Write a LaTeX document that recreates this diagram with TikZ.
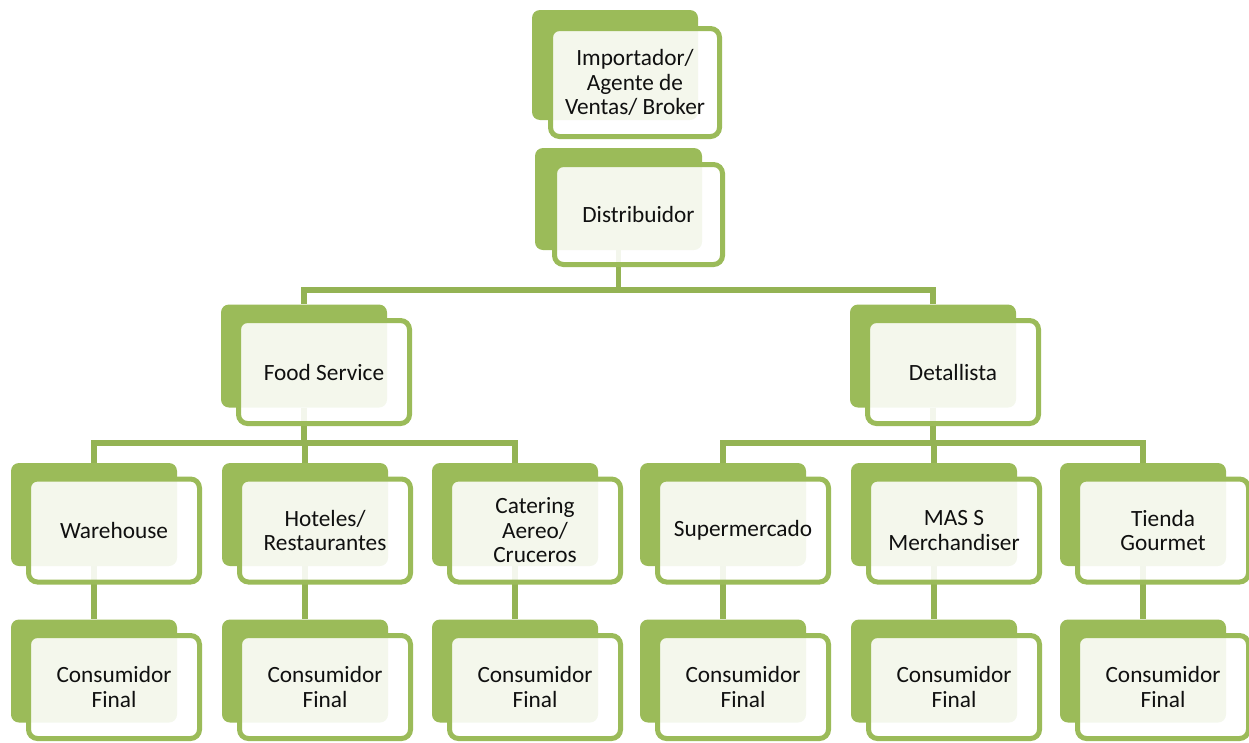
\documentclass[tikz,border=0pt]{standalone}
\usepackage{fontspec}
\setmainfont{Carlito}
\pgfdeclarelayer{background}
\pgfsetlayers{background,main}
\definecolor{olivegreen}{HTML}{9BBB59}
\definecolor{linegreen}{HTML}{94B354}
\definecolor{txt}{HTML}{101010}
\newcommand{\pairbox}[4]{%
  \node[back] (#1B) at (#2,#3) {};
  \node[front] (#1) at ([shift={(20,16)}]#1B.center) {#4};}
\begin{document}
\begin{tikzpicture}[x=1pt,y=-1pt,
  back/.style={fill=olivegreen, rounded corners=8pt, minimum width=166pt, minimum height=103pt, inner sep=0pt},
  front/.style={draw=olivegreen, line width=5pt, fill=white, fill opacity=0.89, text opacity=1,
    rounded corners=9pt, minimum width=171pt, minimum height=103pt, inner sep=0pt,
    align=center, text=txt, font=\fontsize{23.3}{24.5}\selectfont},
  conn/.style={draw=linegreen, line width=5.5pt}]
\useasboundingbox (0,0) rectangle (1249,742);
% top
\node[back, minimum width=166pt, minimum height=110pt] (impB) at (615,65) {};
\node[front, minimum width=169pt, minimum height=108pt] (imp) at (635,82.5) {Importador/\\Agente de\\Ventas/ Broker};
\node[back, minimum width=167pt, minimum height=102pt] (distB) at (618.5,199) {};
\node[front, minimum width=168pt, minimum height=100pt] (dist) at (638.5,214.5) {Distribuidor};
% level 2
\pairbox{food}{304}{356}{Food Service}
\pairbox{det}{933}{356}{Detallista}
% level 3
\pairbox{wh}{94}{514.5}{Warehouse}
\pairbox{hot}{305}{514.5}{Hoteles/\\Restaurantes}
\pairbox{cat}{515}{514.5}{Catering\\Aereo/\\Cruceros}
\pairbox{sup}{723}{514.5}{Supermercado}
\pairbox{mas}{934}{514.5}{MAS S\\Merchandiser}
\pairbox{tie}{1143}{514.5}{Tienda\\Gourmet}
% level 4
\pairbox{cfa}{94}{671}{Consumidor\\Final}
\pairbox{cfb}{305}{671}{Consumidor\\Final}
\pairbox{cfc}{515}{671}{Consumidor\\Final}
\pairbox{cfd}{723}{671}{Consumidor\\Final}
\pairbox{cfe}{934}{671}{Consumidor\\Final}
\pairbox{cff}{1143}{671}{Consumidor\\Final}
% connectors
\coordinate (j1) at (distB.south |- 0,290);
\coordinate (j2) at (foodB.south |- 0,443);
\coordinate (j3) at (detB.south |- 0,443);
\begin{pgfonlayer}{background}
\draw[conn] (distB.south) -- (j1);
\draw[conn] (j1) -| (foodB.north);
\draw[conn] (j1) -| (detB.north);
\draw[conn] (foodB.south) -- (j2);
\draw[conn] (j2) -| (whB.north);
\draw[conn] (j2) -| (hotB.north);
\draw[conn] (j2) -| (catB.north);
\draw[conn] (detB.south) -- (j3);
\draw[conn] (j3) -| (supB.north);
\draw[conn] (j3) -| (masB.north);
\draw[conn] (j3) -| (tieB.north);
\draw[conn] (whB.south) -- (cfaB.north);
\draw[conn] (hotB.south) -- (cfbB.north);
\draw[conn] (catB.south) -- (cfcB.north);
\draw[conn] (supB.south) -- (cfdB.north);
\draw[conn] (masB.south) -- (cfeB.north);
\draw[conn] (tieB.south) -- (cffB.north);
\end{pgfonlayer}
\end{tikzpicture}
\end{document}
